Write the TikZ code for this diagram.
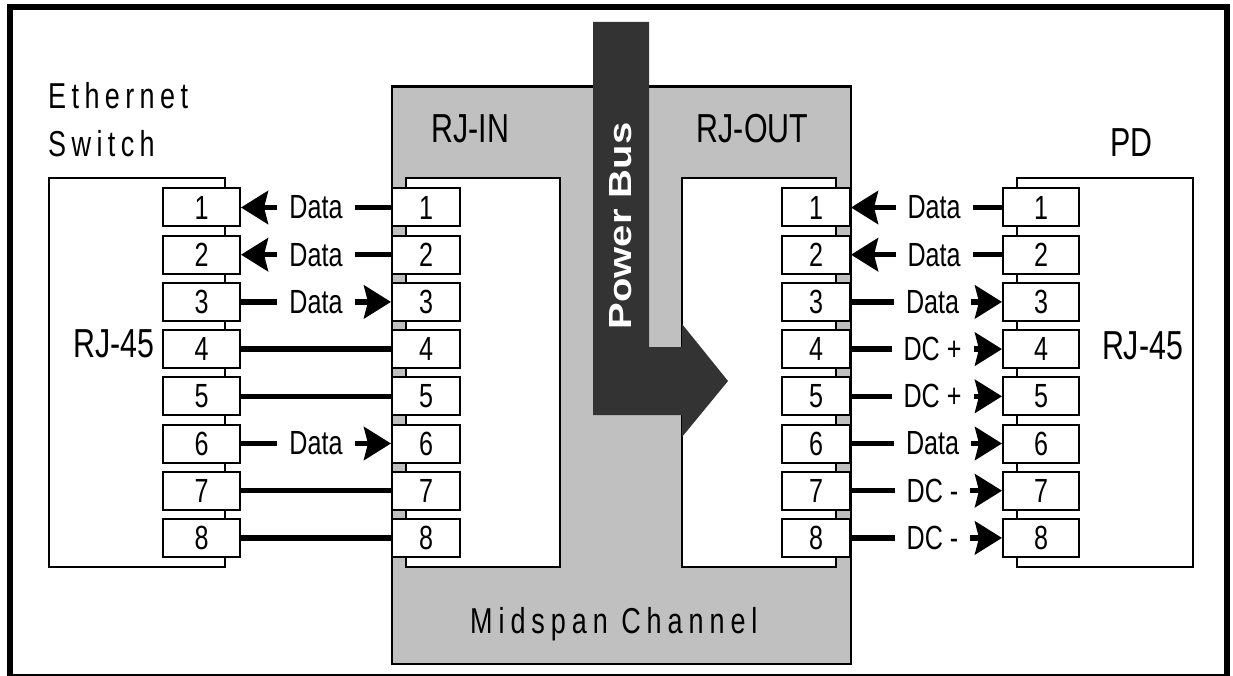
\documentclass[tikz,border=0pt]{standalone}
\usepackage{fontspec}
\setmainfont{Liberation Sans}[FakeStretch=0.75]
\newfontfamily\spacedfont{Liberation Sans}[FakeStretch=0.75, LetterSpace=15]
\newfontfamily\widefont{Liberation Sans}[FakeStretch=0.75, LetterSpace=16.5]
\newfontfamily\busfont{Liberation Sans}
\usetikzlibrary{arrows.meta}
\definecolor{midgray}{HTML}{C0C0C0}
\definecolor{busdark}{HTML}{333333}
\begin{document}
\begin{tikzpicture}[x=1pt,y=-1pt,
  pinbox/.style={draw, line width=2pt, fill=white, inner sep=0pt, minimum height=38pt, font=\fontsize{33.5}{33.5}\selectfont},
  pinL/.style={pinbox, minimum width=77pt},
  pinM/.style={pinbox, minimum width=68pt},
  pinR/.style={pinbox, minimum width=76pt},
  wire/.style={line width=5.5pt},
  arrowwire/.style={wire, -{Stealth[length=27pt,width=33pt,inset=4pt]}},
  lbl/.style={fill=white, inner xsep=12pt, inner ysep=2pt, font=\fontsize{33.5}{33.5}\selectfont},
  big/.style={inner sep=0pt, font=\fontsize{40.5}{40.5}\selectfont},
  spaced/.style={inner sep=0pt, font=\spacedfont\fontsize{36}{36}\selectfont},
  wide/.style={inner sep=0pt, font=\widefont\fontsize{36}{36}\selectfont},
  frame/.style={draw, line width=2pt, fill=white},
]
\useasboundingbox (0,0) rectangle (1233,676);
% outer frame
\draw[line width=6pt] (9.5,7) rectangle (1227,676.5);
% switch and PD boxes
\draw[line width=1.5pt, fill=white] (49,178) rectangle (225,567);
\draw[line width=1.5pt, fill=white] (1017,178) rectangle (1193,567);
% midspan
\draw[fill=midgray, line width=2.5pt] (392,86.5) rectangle (851,664);
\draw[frame] (406,178) rectangle (560,567);
\draw[frame] (682,178) rectangle (836,567);
% power bus
\fill[busdark] (593,22) -- (649,22) -- (649,347) -- (682,347) -- (682,324) -- (728,381) -- (682,437) -- (682,415) -- (593,415) -- cycle;
\node[rotate=90, text=white, inner sep=0pt] (bus) at (620.5,226) {\scalebox{1}[0.8]{\busfont\bfseries\fontsize{40}{40}\selectfont Power Bus}};
% pins
\foreach \i in {1,...,8} {
  \pgfmathsetmacro\yy{207.5+47.2*(\i-1)}
  \node[pinL] (s\i) at (201.5,\yy) {\i};
  \node[pinM] (in\i) at (426,\yy) {\i};
  \node[pinM] (out\i) at (816,\yy) {\i};
  \node[pinR] (d\i) at (1041,\yy) {\i};
}
% left connectors
\draw[arrowwire] (in1.west) -- node[lbl]{Data} (s1.east);
\draw[arrowwire] (in2.west) -- node[lbl]{Data} (s2.east);
\draw[arrowwire] (s3.east) -- node[lbl]{Data} (in3.west);
\draw[wire] (s4.east) -- (in4.west);
\draw[wire] (s5.east) -- (in5.west);
\draw[arrowwire] (s6.east) -- node[lbl]{Data} (in6.west);
\draw[wire] (s7.east) -- (in7.west);
\draw[wire] (s8.east) -- (in8.west);
% right connectors
\draw[arrowwire] (d1.west) -- node[lbl, pos=0.45]{Data} (out1.east);
\draw[arrowwire] (d2.west) -- node[lbl, pos=0.45]{Data} (out2.east);
\draw[arrowwire] (out3.east) -- node[lbl, pos=0.54]{Data} (d3.west);
\draw[arrowwire] (out4.east) -- node[lbl, pos=0.54]{DC +} (d4.west);
\draw[arrowwire] (out5.east) -- node[lbl, pos=0.54]{DC +} (d5.west);
\draw[arrowwire] (out6.east) -- node[lbl, pos=0.54]{Data} (d6.west);
\draw[arrowwire] (out7.east) -- node[lbl, pos=0.54]{DC -} (d7.west);
\draw[arrowwire] (out8.east) -- node[lbl, pos=0.54]{DC -} (d8.west);
% labels
\node[spaced, anchor=base west] (eth) at (48,109) {Ethernet};
\node[spaced, anchor=base west] (sw) at (48,157) {Switch};
\node[big, anchor=base] (rjin) at (470.5,143) {RJ-IN};
\node[big, anchor=base] (rjout) at (752.5,143) {RJ-OUT};
\node[big, anchor=base] (pdlbl) at (1131.5,157) {PD};
\node[big, anchor=base] (rjl) at (114,357) {RJ-45};
\node[big, anchor=base] (rjr) at (1142.5,359) {RJ-45};
\node[wide, anchor=base west] (mid) at (470,633) {Midspan Channel};
\end{tikzpicture}
\end{document}
